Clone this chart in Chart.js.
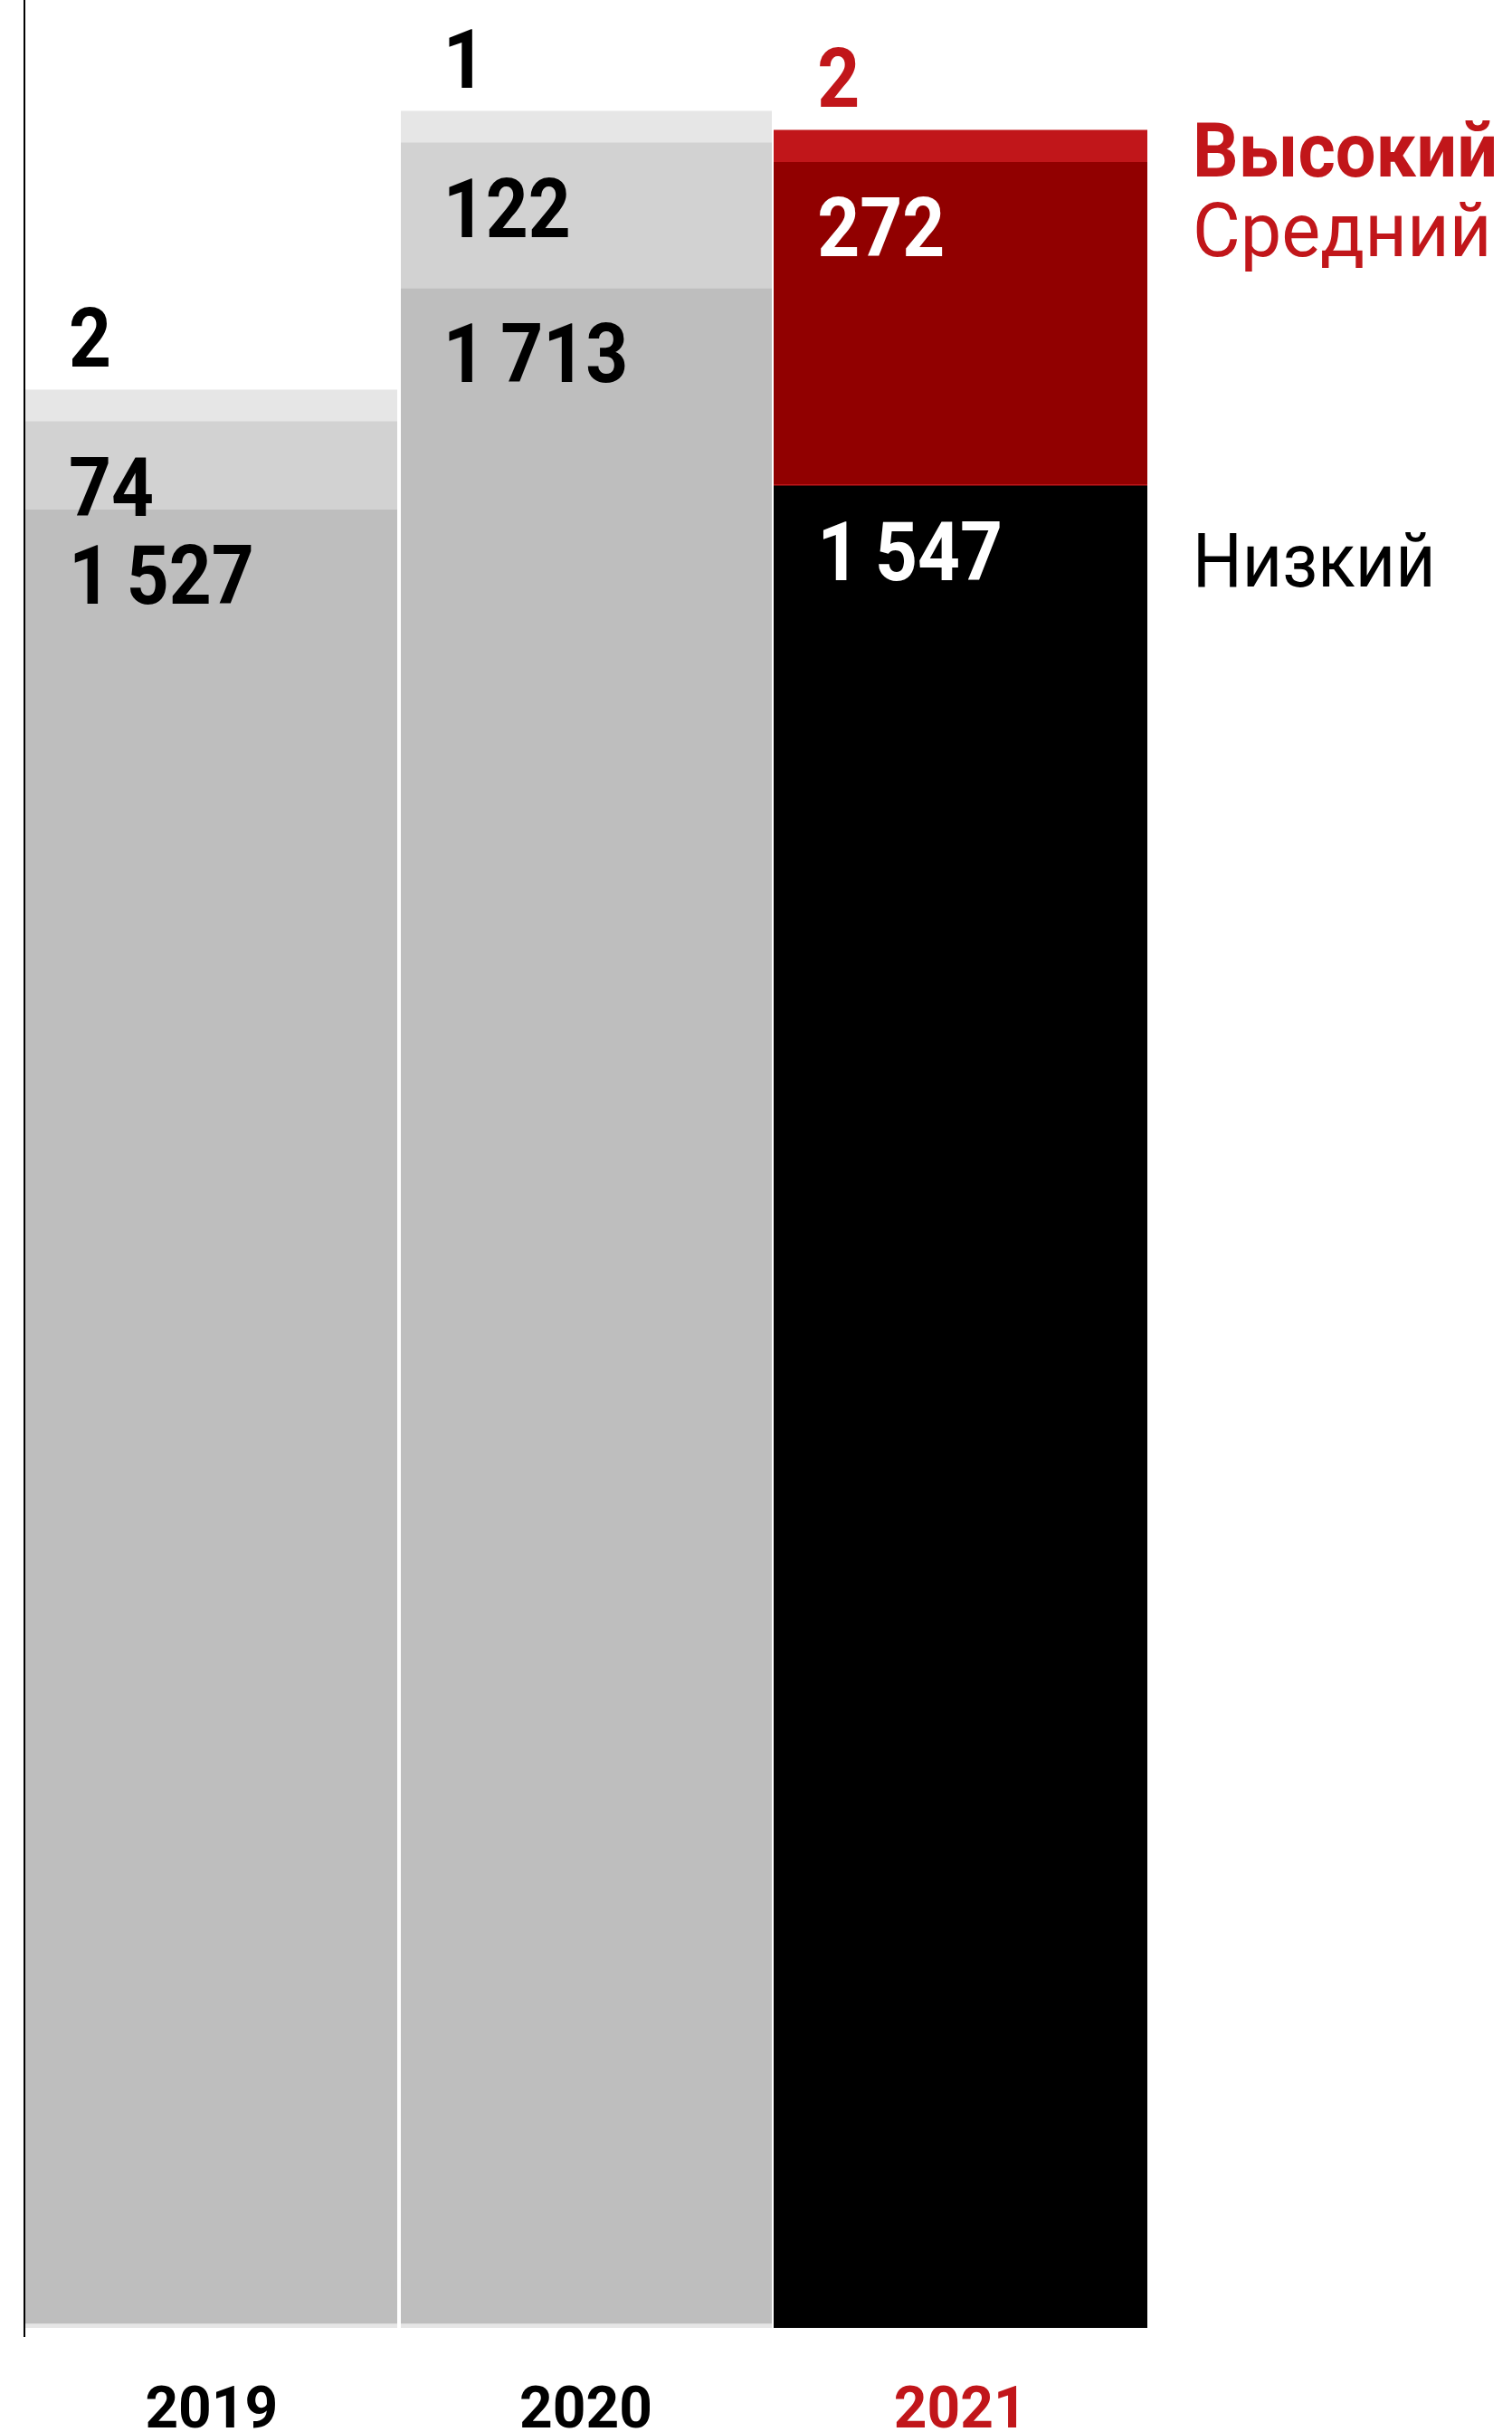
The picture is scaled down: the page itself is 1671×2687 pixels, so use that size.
<!DOCTYPE html>
<html lang="ru">
<head>
<meta charset="utf-8">
<title>Низкий / Средний / Высокий, 2019–2021</title>
<script src="https://cdn.jsdelivr.net/npm/chart.js@4.4.1/dist/chart.umd.min.js"></script>
<style>
  html, body { margin: 0; padding: 0; background: #fff; }
  canvas { display: block; }
</style>
</head>
<body>
<canvas id="grafico" width="1671" height="2687"></canvas>
<script>
// dados
const anos = ['2019', '2020', '2021'];
const seriesNomes = ['Низкий', 'Средний', 'Высокий'];
const nizkiy = [1527, 1713, 1547];
const sredniy = [74, 122, 272];
const vysokiy = [2, 1, 2];

const VERMELHO = '#c1161a';
const VERMELHO_ESC = '#910000';
const FONTE = 'Roboto, "Liberation Sans", sans-serif';

// 1 527 -> com espaço fino
function fmt(v) {
    return String(v).replace(/\B(?=(\d{3})+(?!\d))/g, '\u2009');
}

function textoEstreito(ctx, txt, x, y, esc) {
    ctx.save();
    ctx.translate(x, y);
    ctx.scale(esc, 1);
    ctx.fillText(txt, 0, 0);
    ctx.restore();
}

// rótulos dos valores + legenda à direita
const rotulos = {
    id: 'rotulos',
    afterDatasetsDraw(chart) {
        const ctx = chart.ctx;
        const metas = [0, 1, 2].map(i => chart.getDatasetMeta(i));
        const dados = [nizkiy, sredniy, vysokiy];

        ctx.save();
        ctx.textBaseline = 'alphabetic';
        ctx.textAlign = 'left';
        ctx.font = 'bold 91px ' + FONTE;

        anos.forEach((ano, j) => {
            const destaque = j === anos.length - 1;
            dados.forEach((serie, i) => {
                const el = metas[i].data[j];
                const left = el.x - el.width / 2;
                let y, cor;
                if (i === 2) {
                    y = el.y - 26;
                    cor = destaque ? VERMELHO : '#000';
                } else {
                    y = el.y + 104;
                    cor = destaque ? '#fff' : '#000';
                }
                ctx.fillStyle = cor;
                textoEstreito(ctx, fmt(serie[j]), left + 49, y, 0.9);
            });
        });

        // legenda ao lado da última coluna
        const ult = anos.length - 1;
        const xLeg = chart.chartArea.right + 50;
        const elA = metas[2].data[ult];
        const elS = metas[1].data[ult];
        const elN = metas[0].data[ult];

        ctx.fillStyle = VERMELHO;
        ctx.font = 'bold 84px ' + FONTE;
        textoEstreito(ctx, seriesNomes[2], xLeg, (elA.y + elA.base) / 2 + 34, 0.945);

        ctx.font = '84px ' + FONTE;
        textoEstreito(ctx, seriesNomes[1], xLeg, elS.y + 104, 0.965);

        ctx.fillStyle = '#000';
        textoEstreito(ctx, seriesNomes[0], xLeg, elN.y + 111, 0.915);
        ctx.restore();
    }
};

// linha do eixo à esquerda (preta) e separações brancas entre colunas
const gridCor = ['#000', '#fff', '#fff'];
const gridLarg = [2, 4, 2];

new Chart(document.getElementById('grafico'), {
    type: 'bar',
    data: {
        labels: anos,
        datasets: [
            {
                label: seriesNomes[0],
                data: nizkiy,
                backgroundColor: ['#bebebe', '#bebebe', '#000000'],
                borderColor: '#e6e6e6',
                borderWidth: c => c.dataIndex < 2 ? { bottom: 5 } : 0,
                borderSkipped: false
            },
            {
                label: seriesNomes[1],
                data: sredniy,
                backgroundColor: ['#d2d2d2', '#d2d2d2', VERMELHO_ESC],
                borderColor: VERMELHO,
                borderWidth: c => c.dataIndex === 2 ? { bottom: 2 } : 0,
                borderSkipped: false
            },
            {
                label: seriesNomes[2],
                data: vysokiy,
                backgroundColor: ['#e6e6e6', '#e6e6e6', VERMELHO],
                borderWidth: 0,
                minBarLength: 35
            }
        ]
    },
    options: {
        responsive: false,
        animation: false,
        barPercentage: 1,
        categoryPercentage: 1,
        layout: { padding: { left: 27, right: 403, top: 0, bottom: 0 } },
        plugins: {
            legend: { display: false },
            tooltip: { enabled: false }
        },
        scales: {
            x: {
                stacked: true,
                afterFit: s => { s.height = 115; },
                border: { display: false },
                grid: {
                    z: 1,
                    offset: true,
                    drawOnChartArea: true,
                    drawTicks: true,
                    tickLength: 10,
                    color: c => c.index !== undefined && c.index < 3 ? gridCor[c.index] : 'rgba(0,0,0,0)',
                    lineWidth: c => c.index !== undefined && c.index < 3 ? gridLarg[c.index] : 0
                },
                ticks: {
                    padding: 52,
                    color: c => c.index === 2 ? VERMELHO : '#000',
                    font: { family: FONTE, size: 64, weight: 'bold', lineHeight: 1 }
                }
            },
            y: {
                stacked: true,
                display: false,
                min: 0,
                max: 1955
            }
        }
    },
    plugins: [rotulos]
});
</script>
</body>
</html>
